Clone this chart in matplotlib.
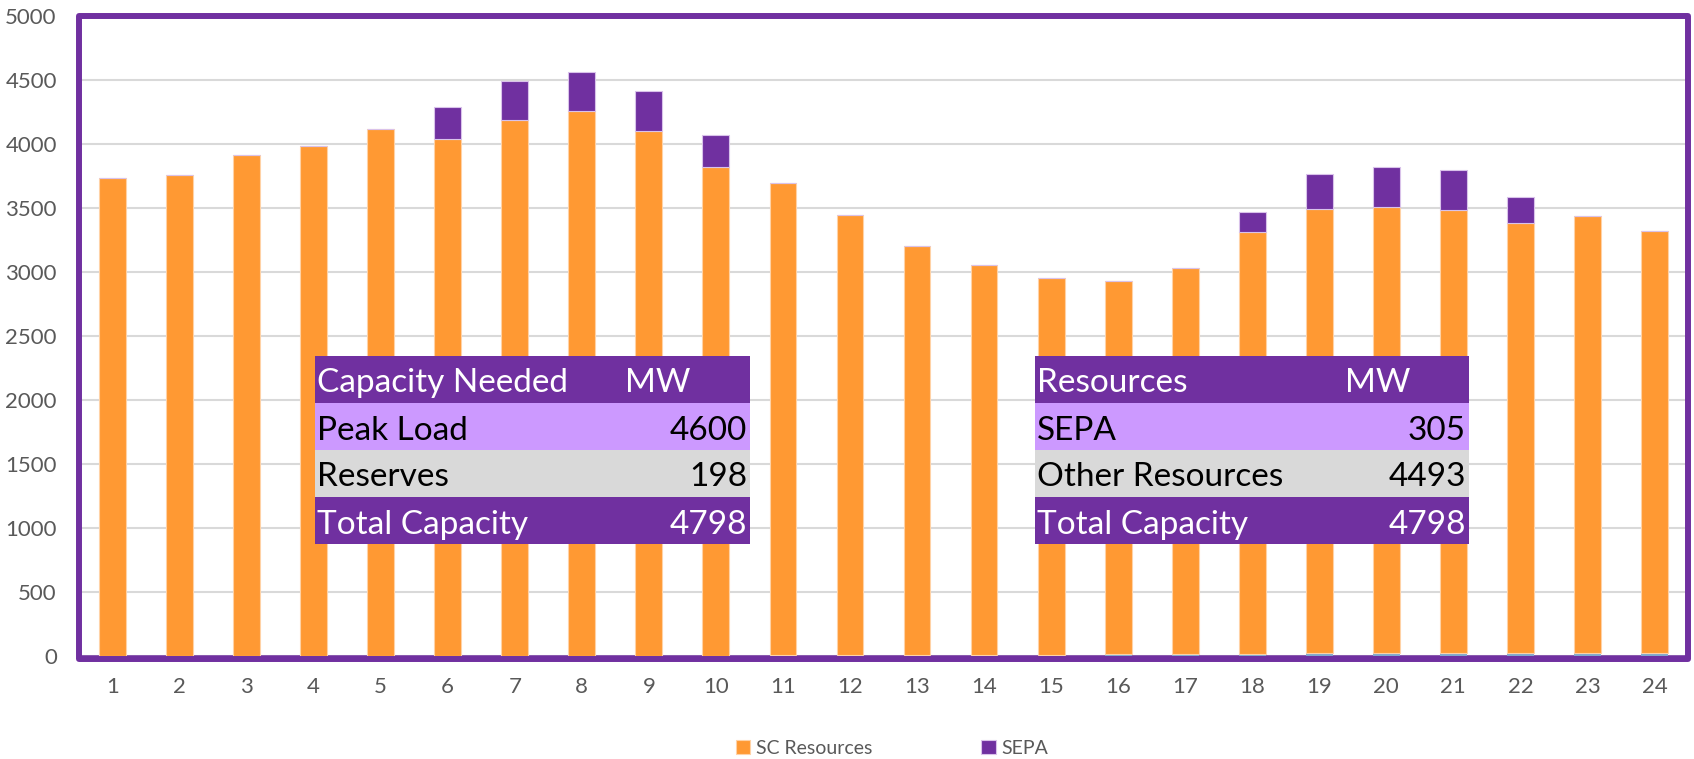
import matplotlib
matplotlib.use('Agg')
import matplotlib.pyplot as plt
from matplotlib.patches import Rectangle
import numpy as np

plt.rcParams['font.family'] = ['Lato', 'DejaVu Sans']

# Hourly capacity (MW)
hours = list(range(1, 25))
other = [0, 0, 0, 0, 0, 0, 0, 0, 0, 4, 6, 8, 8, 10, 12, 14, 16, 20, 22, 24, 24, 26, 28, 28]
sc_resources = [3732, 3755, 3917, 3984, 4115, 4036, 4190, 4258, 4104, 3819, 3692, 3437,
                3193, 3045, 2939, 2916, 3015, 3295, 3468, 3486, 3463, 3357, 3409, 3292]
sepa = [0, 0, 0, 0, 0, 250, 305, 304, 307, 250, 0, 0,
        0, 0, 0, 0, 0, 151, 276, 308, 307, 200, 0, 0]

# Summary tables
need_header = ['Capacity Needed', 'MW']
need_labels = ['Peak Load', 'Reserves', 'Total Capacity']
need_mw = [4600, 198, 4798]
res_header = ['Resources', 'MW']
res_labels = ['SEPA', 'Other Resources', 'Total Capacity']
res_mw = [305, 4493, 4798]

ORANGE = '#FF9933'
PURPLE = '#7030A0'
LIGHT_PURPLE = '#CC99FF'
GRAY_ROW = '#D9D9D9'

W, H = 1694, 759
fig = plt.figure(figsize=(W / 100, H / 100), dpi=100)
ax = fig.add_axes([79 / W, 1 - 659 / H, (1688 - 79) / W, (659 - 16) / H])

x = np.arange(len(hours))
bw = 0.4
ax.bar(x, other, bw, color='#7FA8D0', zorder=3)
ax.bar(x, sc_resources, bw, bottom=other, color=ORANGE, edgecolor='#FFD2A6',
       linewidth=0.8, label='SC Resources', zorder=3)
ax.bar(x, sepa, bw, bottom=np.array(other) + np.array(sc_resources), color=PURPLE,
       edgecolor='#D9C2EA', linewidth=0.8, label='SEPA', zorder=3)

ax.set_xlim(-0.5, len(hours) - 0.5)
ax.set_ylim(-22, 5000)
ax.set_yticks(range(0, 5001, 500))
ax.set_xticks(x)
ax.set_xticklabels([str(h) for h in hours])
ax.tick_params(length=0, labelsize=16, colors='#595959')
ax.tick_params(axis='y', pad=16)
ax.tick_params(axis='x', pad=13)
ax.grid(axis='y', color='#D9D9D9', linewidth=1.5, zorder=0)
ax.axhline(0, color=PURPLE, linewidth=1.8, zorder=2)

for s in ax.spines.values():
    s.set_visible(False)
ax.add_patch(Rectangle((0, 0), 1, 1, transform=ax.transAxes, fill=False,
                       edgecolor=PURPLE, linewidth=4.3, joinstyle='round',
                       clip_on=False, zorder=5))

leg = fig.legend(loc='center', bbox_to_anchor=(892 / W, 1 - 748 / H), ncol=2,
                 frameon=False, fontsize=14, handlelength=0.75, handleheight=0.75,
                 handletextpad=0.3, columnspacing=5.6)
for t in leg.get_texts():
    t.set_color('#595959')


def draw_table(x0, x1, mw_x, header, labels, values):
    tops = [356, 403, 450, 497, 544]
    fills = [PURPLE, LIGHT_PURPLE, GRAY_ROW, PURPLE]
    rows = [header] + [[lab, str(v)] for lab, v in zip(labels, values)]
    for i, (fc, row) in enumerate(zip(fills, rows)):
        y0, y1 = tops[i], tops[i + 1]
        fig.add_artist(Rectangle((x0 / W, 1 - y1 / H), (x1 - x0) / W, (y1 - y0) / H,
                                 transform=fig.transFigure, facecolor=fc,
                                 edgecolor='none', zorder=6))
        tc = 'white' if fc == PURPLE else 'black'
        base = 1 - (y1 - 10.5) / H
        fig.text((x0 + 2) / W, base, row[0], color=tc, fontsize=24,
                 va='baseline', ha='left', zorder=7)
        if i == 0:
            fig.text(mw_x / W, base, row[1], color=tc, fontsize=24,
                     va='baseline', ha='left', zorder=7)
        else:
            fig.text((x1 - 3) / W, base, row[1], color=tc, fontsize=24,
                     va='baseline', ha='right', zorder=7)


draw_table(315, 750, 625, need_header, need_labels, need_mw)
draw_table(1035, 1469, 1345, res_header, res_labels, res_mw)

fig.savefig('out.png', dpi=100)
